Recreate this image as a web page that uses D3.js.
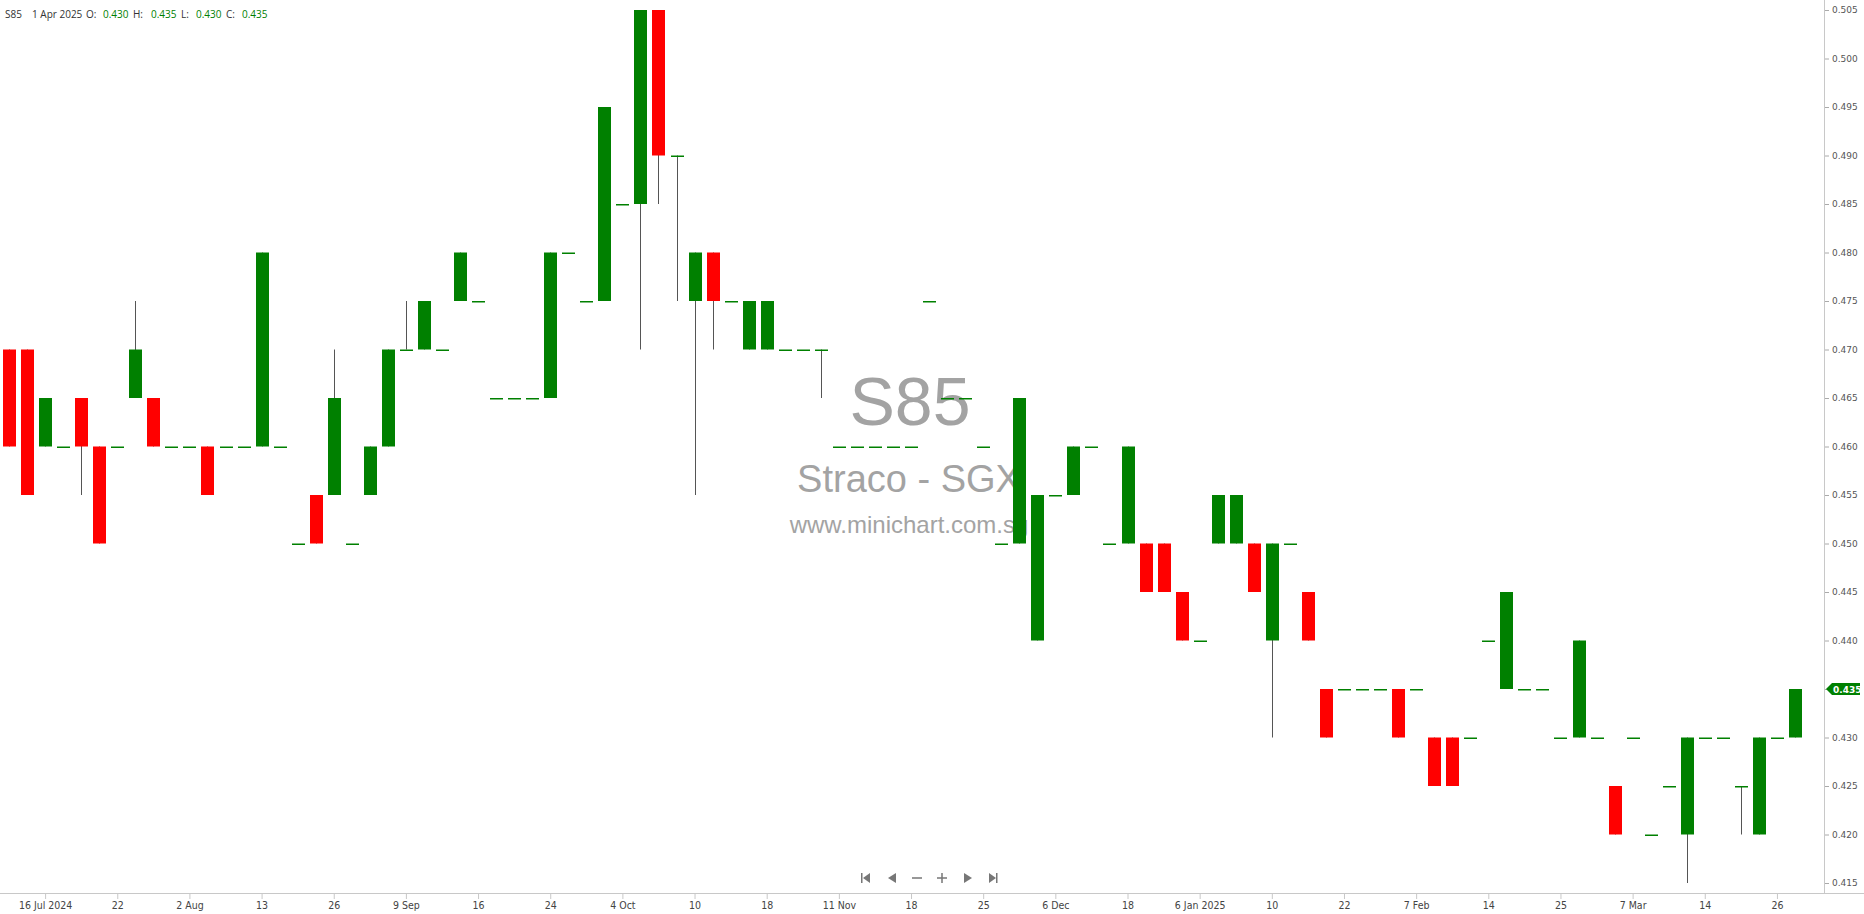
<html>
  <meta charset="utf-8" />
  <script src="https://d3js.org/d3.v7.min.js"></script>
  <style>
    body { margin: 0; background: #fff; }
    svg text { font-family: "Open Sans", sans-serif; }
  </style>
  <body>
    <svg width="1864" height="914" id="chart"></svg>

    <script>
      // daily candles S85 (Straco), mid Jul 2024 .. 1 Apr 2025
      const opens = [
        0.470, 0.470, 0.460, 0.460, 0.465, 0.460, 0.460, 0.465, 0.465, 0.460,
        0.460, 0.460, 0.460, 0.460, 0.460, 0.460, 0.450, 0.455, 0.455, 0.450,
        0.455, 0.460, 0.470, 0.470, 0.470, 0.475, 0.475, 0.465, 0.465, 0.465,
        0.465, 0.480, 0.475, 0.475, 0.485, 0.485, 0.505, 0.490, 0.475, 0.480,
        0.475, 0.470, 0.470, 0.470, 0.470, 0.470, 0.460, 0.460, 0.460, 0.460,
        0.460, 0.475, 0.465, 0.465, 0.460, 0.450, 0.450, 0.440, 0.455, 0.455,
        0.460, 0.450, 0.450, 0.450, 0.450, 0.445, 0.440, 0.450, 0.450, 0.450,
        0.440, 0.450, 0.445, 0.435, 0.435, 0.435, 0.435, 0.435, 0.435, 0.430,
        0.430, 0.430, 0.440, 0.435, 0.435, 0.435, 0.430, 0.430, 0.430, 0.425,
        0.430, 0.420, 0.425, 0.420, 0.430, 0.430, 0.425, 0.420, 0.430, 0.430
      ];
      const highs = [
        0.470, 0.470, 0.465, 0.460, 0.465, 0.460, 0.460, 0.475, 0.465, 0.460,
        0.460, 0.460, 0.460, 0.460, 0.480, 0.460, 0.450, 0.455, 0.470, 0.450,
        0.460, 0.470, 0.475, 0.475, 0.470, 0.480, 0.475, 0.465, 0.465, 0.465,
        0.480, 0.480, 0.475, 0.495, 0.485, 0.505, 0.505, 0.490, 0.480, 0.480,
        0.475, 0.475, 0.475, 0.470, 0.470, 0.470, 0.460, 0.460, 0.460, 0.460,
        0.460, 0.475, 0.465, 0.465, 0.460, 0.450, 0.465, 0.455, 0.455, 0.460,
        0.460, 0.450, 0.460, 0.450, 0.450, 0.445, 0.440, 0.455, 0.455, 0.450,
        0.450, 0.450, 0.445, 0.435, 0.435, 0.435, 0.435, 0.435, 0.435, 0.430,
        0.430, 0.430, 0.440, 0.445, 0.435, 0.435, 0.430, 0.440, 0.430, 0.425,
        0.430, 0.420, 0.425, 0.430, 0.430, 0.430, 0.425, 0.430, 0.430, 0.435
      ];
      const lows = [
        0.460, 0.455, 0.460, 0.460, 0.455, 0.450, 0.460, 0.465, 0.460, 0.460,
        0.460, 0.455, 0.460, 0.460, 0.460, 0.460, 0.450, 0.450, 0.455, 0.450,
        0.455, 0.460, 0.470, 0.470, 0.470, 0.475, 0.475, 0.465, 0.465, 0.465,
        0.465, 0.480, 0.475, 0.475, 0.485, 0.470, 0.485, 0.475, 0.455, 0.470,
        0.475, 0.470, 0.470, 0.470, 0.470, 0.465, 0.460, 0.460, 0.460, 0.460,
        0.460, 0.475, 0.465, 0.465, 0.460, 0.450, 0.450, 0.440, 0.455, 0.455,
        0.460, 0.450, 0.450, 0.445, 0.445, 0.440, 0.440, 0.450, 0.450, 0.445,
        0.430, 0.450, 0.440, 0.430, 0.435, 0.435, 0.435, 0.430, 0.435, 0.425,
        0.425, 0.430, 0.440, 0.435, 0.435, 0.435, 0.430, 0.430, 0.430, 0.420,
        0.430, 0.420, 0.425, 0.415, 0.430, 0.430, 0.420, 0.420, 0.430, 0.430
      ];
      const closes = [
        0.460, 0.455, 0.465, 0.460, 0.460, 0.450, 0.460, 0.470, 0.460, 0.460,
        0.460, 0.455, 0.460, 0.460, 0.480, 0.460, 0.450, 0.450, 0.465, 0.450,
        0.460, 0.470, 0.470, 0.475, 0.470, 0.480, 0.475, 0.465, 0.465, 0.465,
        0.480, 0.480, 0.475, 0.495, 0.485, 0.505, 0.490, 0.490, 0.480, 0.475,
        0.475, 0.475, 0.475, 0.470, 0.470, 0.470, 0.460, 0.460, 0.460, 0.460,
        0.460, 0.475, 0.465, 0.465, 0.460, 0.450, 0.465, 0.455, 0.455, 0.460,
        0.460, 0.450, 0.460, 0.445, 0.445, 0.440, 0.440, 0.455, 0.455, 0.445,
        0.450, 0.450, 0.440, 0.430, 0.435, 0.435, 0.435, 0.430, 0.435, 0.425,
        0.425, 0.430, 0.440, 0.445, 0.435, 0.435, 0.430, 0.440, 0.430, 0.420,
        0.430, 0.420, 0.425, 0.430, 0.430, 0.430, 0.425, 0.430, 0.430, 0.435
      ];

      // date labels, one every 4th candle starting at the 3rd
      const dateLabels = [
        "16 Jul 2024", "22", "2 Aug", "13", "26", "9 Sep", "16", "24", "4 Oct",
        "10", "18", "11 Nov", "18", "25", "6 Dec", "18", "6 Jan 2025", "10",
        "22", "7 Feb", "14", "25", "7 Mar", "14", "26"
      ];
      const priceTicks = d3.range(0, 19).map((k) => 0.415 + k * 0.005);

      const header = { code: "S85", date: "1 Apr 2025" };

      const width = 1864;
      const height = 914;
      const axisX = 1824;
      const axisY = 893;

      const data = opens.map((o, i) => ({
        i: i,
        o: o,
        h: highs[i],
        l: lows[i],
        c: closes[i],
      }));

      const svg = d3.select("#chart");

      const xScale = d3
        .scaleBand()
        .domain(d3.range(data.length))
        .range([0.5, 0.5 + 18.04 * data.length]);
      const yScale = d3.scaleLinear().domain([0.415, 0.505]).range([883, 10]);

      const cx = (i) => xScale(i) + xScale.bandwidth() / 2;
      const bodyW = 13;

      // watermark behind the candles
      const wm = svg.append("g").attr("fill", "#a3a3a3")
        .attr("text-anchor", "middle")
        .style("font-family", "'Liberation Sans', Arial, sans-serif");
      wm.append("text").attr("x", 910).attr("y", 425)
        .style("font-family", "'Liberation Sans', Arial, sans-serif")
        .style("font-size", "68px").text("S85");
      wm.append("text").attr("x", 909).attr("y", 492)
        .style("font-family", "'Liberation Sans', Arial, sans-serif")
        .style("font-size", "38px").text("Straco - SGX");
      wm.append("text").attr("x", 909).attr("y", 533)
        .style("font-family", "'Liberation Sans', Arial, sans-serif")
        .style("font-size", "24px").text("www.minichart.com.sg");

      // wicks
      svg.append("g")
        .selectAll("line")
        .data(data)
        .join("line")
        .attr("x1", (d) => Math.floor(cx(d.i)) + 0.5)
        .attr("x2", (d) => Math.floor(cx(d.i)) + 0.5)
        .attr("y1", (d) => yScale(d.h))
        .attr("y2", (d) => yScale(d.l))
        .attr("stroke", "#555")
        .attr("stroke-width", 1);

      // bodies
      svg.append("g")
        .selectAll("rect")
        .data(data)
        .join("rect")
        .attr("x", (d) => Math.round(cx(d.i) - bodyW / 2))
        .attr("width", bodyW)
        .attr("y", (d) => yScale(Math.max(d.o, d.c)))
        .attr("height", (d) => Math.max(1.5, yScale(Math.min(d.o, d.c)) - yScale(Math.max(d.o, d.c))))
        .attr("fill", (d) => (d.c < d.o ? "#ff0000" : "#008000"));

      // right price axis
      svg.append("line")
        .attr("x1", axisX + 0.5).attr("x2", axisX + 0.5)
        .attr("y1", 0).attr("y2", axisY)
        .attr("stroke", "#c8c8c8");

      const yAxis = svg.append("g")
        .attr("transform", `translate(${axisX + 1}, 0)`)
        .call(
          d3.axisRight(yScale)
            .tickValues(priceTicks)
            .tickFormat(d3.format(".3f"))
            .tickSize(4)
            .tickPadding(3)
        );
      yAxis.select(".domain").remove();
      yAxis.selectAll(".tick line").attr("stroke", "#aaa");
      yAxis.selectAll(".tick text")
        .attr("fill", "#555")
        .style("font-family", "'DejaVu Sans', sans-serif")
        .style("font-size", "9px");

      // last price tag
      const last = data[data.length - 1];
      const ty = yScale(last.c);
      svg.append("path")
        .attr("d", `M${axisX + 2},${ty} L${axisX + 8},${ty - 6} L${width - 4},${ty - 6} L${width - 4},${ty + 6} L${axisX + 8},${ty + 6} Z`)
        .attr("fill", "#008000");
      svg.append("text")
        .attr("x", axisX + 9).attr("y", ty + 3.5)
        .attr("fill", "#fff")
        .style("font-family", "'DejaVu Sans', sans-serif")
        .style("font-size", "9px").style("font-weight", "bold")
        .text(d3.format(".3f")(last.c));

      // bottom date axis
      svg.append("line")
        .attr("x1", 0).attr("x2", width)
        .attr("y1", axisY + 0.5).attr("y2", axisY + 0.5)
        .attr("stroke", "#c8c8c8");

      const tickIdx = dateLabels.map((_, k) => 2 + 4 * k);
      const xAxis = svg.append("g")
        .attr("transform", `translate(0, ${axisY})`)
        .call(
          d3.axisBottom(xScale)
            .tickValues(tickIdx)
            .tickFormat((i) => dateLabels[(i - 2) / 4])
            .tickSize(6)
            .tickPadding(3)
        );
      xAxis.select(".domain").remove();
      xAxis.selectAll(".tick line").attr("stroke", "#c8c8c8");
      xAxis.selectAll(".tick text")
        .attr("fill", "#444")
        .style("font-family", "'Liberation Sans Narrow', 'DejaVu Sans Condensed', sans-serif")
        .style("font-stretch", "condensed")
        .style("font-size", "10.5px");

      // header line
      const hd = svg.append("text").attr("x", 5).attr("y", 18)
        .style("font-size", "10px").attr("fill", "#333");
      hd.append("tspan").text(header.code);
      hd.append("tspan").attr("x", 32).text(header.date);
      const fields = [
        ["O:", last.o, 86, 103],
        ["H:", last.h, 133, 151],
        ["L:", last.l, 181, 196],
        ["C:", last.c, 226, 242],
      ];
      fields.forEach((f) => {
        hd.append("tspan").attr("x", f[2]).text(f[0]);
        hd.append("tspan").attr("x", f[3]).attr("fill", "#008000")
          .text(d3.format(".3f")(f[1]));
      });

      // navigation buttons
      const nav = svg.append("g").attr("fill", "#777").attr("stroke", "#777");
      const ny = 878;
      nav.append("rect").attr("x", 861).attr("y", ny - 5).attr("width", 1.5).attr("height", 10).attr("stroke", "none");
      nav.append("path").attr("d", `M863,${ny} L870,${ny - 5} L870,${ny + 5} Z`).attr("stroke", "none");
      nav.append("path").attr("d", `M888,${ny} L896,${ny - 5} L896,${ny + 5} Z`).attr("stroke", "none");
      nav.append("rect").attr("x", 912).attr("y", ny - 0.75).attr("width", 10).attr("height", 1.5).attr("stroke", "none");
      nav.append("rect").attr("x", 937).attr("y", ny - 0.75).attr("width", 10).attr("height", 1.5).attr("stroke", "none");
      nav.append("rect").attr("x", 941.25).attr("y", ny - 5).attr("width", 1.5).attr("height", 10).attr("stroke", "none");
      nav.append("path").attr("d", `M972,${ny} L964,${ny - 5} L964,${ny + 5} Z`).attr("stroke", "none");
      nav.append("path").attr("d", `M996,${ny} L989,${ny - 5} L989,${ny + 5} Z`).attr("stroke", "none");
      nav.append("rect").attr("x", 996).attr("y", ny - 5).attr("width", 1.5).attr("height", 10).attr("stroke", "none");
    </script>
  </body>
</html>
